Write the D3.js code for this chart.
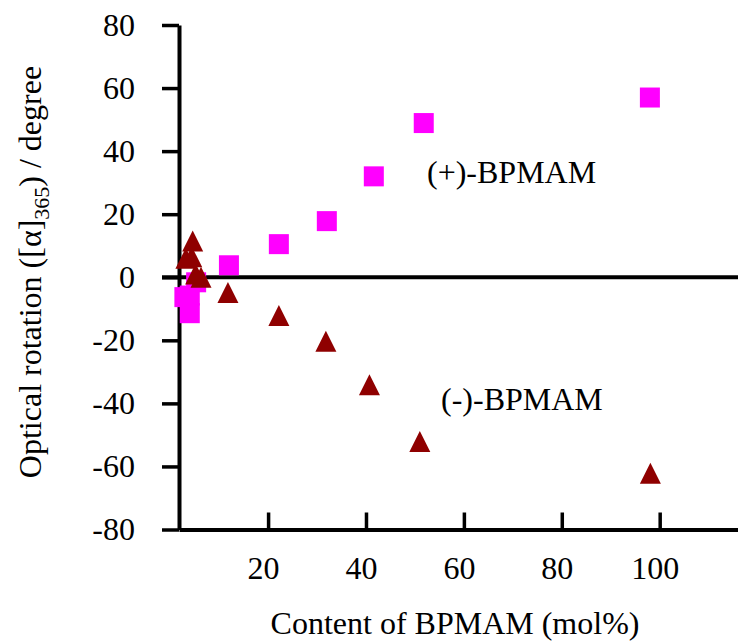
<!DOCTYPE html>
<html>
<head>
<meta charset="utf-8">
<script src="https://cdn.jsdelivr.net/npm/d3@7"></script>
<style>
  html, body { margin: 0; padding: 0; background: #fff; }
  svg { display: block; }
  text { font-family: "Liberation Serif", "Times New Roman", "DejaVu Serif", serif; fill: #000; }
</style>
</head>
<body>
<svg id="chart" width="738" height="641"></svg>
<script>
// (+)-BPMAM copolymers: content (mol%) vs optical rotation
const plusContent  = [2.9, 4.0, 4.0, 5.3, 12.0, 22.2, 32.0, 41.6, 51.8, 98.0];
const plusRotation = [-6.3, -5.8, -11.4, -1.6, 3.8, 10.5, 17.8, 32.0, 48.9, 57.0];

// (-)-BPMAM copolymers
const minusContent  = [3.2, 4.4, 4.6, 5.2, 6.3, 11.8, 22.2, 31.8, 40.7, 51.0, 98.1];
const minusRotation = [6.0, 6.5, 11.5, 1.0, 0.0, -4.8, -12.1, -20.3, -34.1, -52.1, -62.2];

const xTickValues = [20, 40, 60, 80, 100];
const yTickValues = [-80, -60, -40, -20, 0, 20, 40, 60, 80];

const svg = d3.select("#chart");
const FONT = 32;
const FAMILY = '"Liberation Serif", "Times New Roman", serif';
const plain = d => String(d);

const x = d3.scaleLinear().domain([1.8, 116]).range([179, 738]);
const y = d3.scaleLinear().domain([-80, 80]).range([529.5, 25]);

// y axis with outward ticks
const yAxis = svg.append("g")
  .attr("transform", `translate(${x(1.8)},0)`)
  .call(d3.axisLeft(y).tickValues(yTickValues).tickFormat(plain)
    .tickSizeInner(17).tickSizeOuter(0).tickPadding(27));
yAxis.attr("font-family", FAMILY).attr("font-size", FONT);
yAxis.select(".domain").attr("stroke", "#000").attr("stroke-width", 4);
yAxis.selectAll(".tick line").attr("stroke", "#000").attr("stroke-width", 3.5);
yAxis.selectAll(".tick text").attr("fill", "#000");

// x axis at the bottom with inward ticks
const xAxis = svg.append("g")
  .attr("transform", `translate(0,${y(-80)})`)
  .call(d3.axisBottom(x).tickValues(xTickValues).tickFormat(plain)
    .tickSizeInner(-17).tickSizeOuter(0).tickPadding(27));
xAxis.attr("font-family", FAMILY).attr("font-size", FONT);
xAxis.select(".domain").attr("stroke", "#000").attr("stroke-width", 4);
xAxis.selectAll(".tick line").attr("stroke", "#000").attr("stroke-width", 3.5);
xAxis.selectAll(".tick text").attr("fill", "#000").attr("dx", -5);

// zero reference line across the plot
svg.append("line")
  .attr("x1", x(1.8) - 17).attr("x2", 738)
  .attr("y1", y(0)).attr("y2", y(0))
  .attr("stroke", "#000").attr("stroke-width", 4);

// (+)-BPMAM squares
const sq = 20;
svg.append("g").selectAll("rect")
  .data(plusContent.map((c, i) => [c, plusRotation[i]]))
  .join("rect")
  .attr("x", d => x(d[0]) - sq / 2)
  .attr("y", d => y(d[1]) - sq / 2)
  .attr("width", sq).attr("height", sq)
  .attr("fill", "#ff00ff");

// (-)-BPMAM triangles
const h = 10.5;
svg.append("g").selectAll("path")
  .data(minusContent.map((c, i) => [c, minusRotation[i]]))
  .join("path")
  .attr("transform", d => `translate(${x(d[0])},${y(d[1])})`)
  .attr("d", `M0,${-h}L${h},${h}L${-h},${h}Z`)
  .attr("fill", "#8f0000");

// series labels
svg.append("text").attr("x", 427).attr("y", 183)
  .style("font-size", FONT + "px").text("(+)-BPMAM");
svg.append("text").attr("x", 441).attr("y", 410)
  .style("font-size", FONT + "px").text("(-)-BPMAM");

// axis titles
svg.append("text")
  .attr("x", 455).attr("y", 634)
  .attr("text-anchor", "middle")
  .style("font-size", FONT + "px")
  .text("Content of BPMAM (mol%)");

const yt = svg.append("text")
  .attr("transform", "translate(41,272) rotate(-90)")
  .attr("text-anchor", "middle")
  .style("font-size", FONT + "px");
yt.append("tspan").text("Optical rotation ([α]");
yt.append("tspan").attr("dy", 8).style("font-size", "22px").text("365");
yt.append("tspan").attr("dy", -8).text(") / degree");
</script>
</body>
</html>
